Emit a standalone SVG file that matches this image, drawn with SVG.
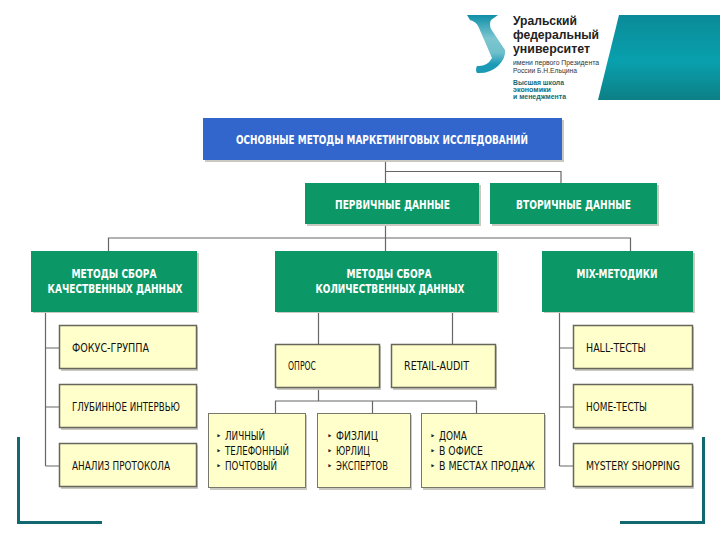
<svg xmlns="http://www.w3.org/2000/svg" width="720" height="540" viewBox="0 0 720 540">
<defs>
<linearGradient id="tealGrad" x1="0" y1="0" x2="0" y2="1"><stop offset="0" stop-color="#0b8b99"/><stop offset="0.55" stop-color="#08a0ad"/><stop offset="1" stop-color="#0d7f85"/></linearGradient>
<linearGradient id="uGrad" x1="0" y1="0" x2="0" y2="1"><stop offset="0" stop-color="#0f8fa8"/><stop offset="0.4" stop-color="#7cc6cf"/><stop offset="0.65" stop-color="#6fbfcc"/><stop offset="0.85" stop-color="#1a9ab5"/></linearGradient>
</defs>
<style>
text{font-family:"DejaVu Sans","Liberation Sans",sans-serif}
.s{fill:#c9c9c2}
.blue{fill:#3366cc}
.green{fill:#0b9866}
.yel{fill:#ffffcc;stroke:#66665a;stroke-width:1.5}
.yel2{fill:#ffffcc;stroke:#77776a;stroke-width:1}
.w{fill:#fff;font-size:11.500px;font-weight:bold;text-anchor:middle}
.k{fill:#111;font-size:11.500px}
.b{fill:#222;font-size:9px}
.c{fill:none;stroke:#666;stroke-width:1.2}
.corner{fill:none;stroke:#12686f;stroke-width:3}
.logo{fill:#222;font-family:"Liberation Sans",sans-serif;font-weight:bold;font-size:12px}
.sm{fill:#333;font-family:"Liberation Sans",sans-serif;font-size:7px}
.hs{fill:#176a72;font-family:"Liberation Sans",sans-serif;font-weight:bold;font-size:6.500px}
</style>
<g id="logo">
<path d="M467 15H498L491 20Q489 24 491 29L505 50Q506 58 498 66Q489 74 477 73Q475 70 477 66Q487 67 492 58L479 28Q477 22 470 20Z" fill="url(#uGrad)"/>
<text class="logo" x="513" y="25" textLength="64" lengthAdjust="spacingAndGlyphs">Уральский</text>
<text class="logo" x="513" y="39" textLength="86" lengthAdjust="spacingAndGlyphs">федеральный</text>
<text class="logo" x="513" y="52.500" textLength="77" lengthAdjust="spacingAndGlyphs">университет</text>
<text class="sm" x="513" y="65" textLength="86" lengthAdjust="spacingAndGlyphs">имени первого Президента</text>
<text class="sm" x="513" y="73" textLength="64" lengthAdjust="spacingAndGlyphs">России Б.Н.Ельцина</text>
<text class="hs" x="513" y="85" textLength="51" lengthAdjust="spacingAndGlyphs">Высшая школа</text>
<text class="hs" x="513" y="92" textLength="38" lengthAdjust="spacingAndGlyphs">экономики</text>
<text class="hs" x="513" y="99" textLength="53" lengthAdjust="spacingAndGlyphs">и менеджмента</text>
<path d="M619 15H720V100H598Z" fill="url(#tealGrad)"/>
</g>
<g id="corners">
<path class="corner" d="M18.500 437V522.500H102"/>
<path class="corner" d="M703.500 437V522.500H620"/>
</g>
<g id="connectors">
<path class="c" d="M385.500 160V183M385.500 171.500H561V183"/>
<path class="c" d="M385.500 224V238M108.500 251V238H630.500V251M385.500 238V251"/>
<path class="c" d="M45.500 312V466M45.500 348H59M45.500 407H59M45.500 466H59"/>
<path class="c" d="M559.500 312V466M559.500 348H573M559.500 407H573M559.500 466H573"/>
<path class="c" d="M318.500 312V344M452.500 312V344"/>
<path class="c" d="M318.500 388V401M275.500 413V401H476.500V413M372.500 401V413"/>
</g>
<g id="root"><rect class="s" x="205" y="120" width="359" height="42"/><rect class="blue" x="203" y="118" width="359" height="42"/><text class="w" x="382" y="144" textLength="292" lengthAdjust="spacingAndGlyphs">ОСНОВНЫЕ МЕТОДЫ МАРКЕТИНГОВЫХ ИССЛЕДОВАНИЙ</text></g>
<g id="primary"><rect class="s" x="307" y="185" width="174" height="41"/><rect class="green" x="305" y="183" width="174" height="41"/><text class="w" x="392.500" y="209" textLength="115" lengthAdjust="spacingAndGlyphs">ПЕРВИЧНЫЕ ДАННЫЕ</text></g>
<g id="secondary"><rect class="s" x="492" y="185" width="167" height="41"/><rect class="green" x="490" y="183" width="167" height="41"/><text class="w" x="573.500" y="209" textLength="115" lengthAdjust="spacingAndGlyphs">ВТОРИЧНЫЕ ДАННЫЕ</text></g>
<g id="qual"><rect class="s" x="33" y="253" width="166" height="60"/><rect class="green" x="31" y="251" width="166" height="61"/><text class="w" x="114" y="278" textLength="85" lengthAdjust="spacingAndGlyphs">МЕТОДЫ СБОРА</text><text class="w" x="115" y="293" textLength="135" lengthAdjust="spacingAndGlyphs">КАЧЕСТВЕННЫХ ДАННЫХ</text></g>
<g id="quant"><rect class="s" x="277" y="253" width="222" height="60"/><rect class="green" x="275" y="251" width="222" height="61"/><text class="w" x="389" y="278" textLength="85" lengthAdjust="spacingAndGlyphs">МЕТОДЫ СБОРА</text><text class="w" x="390" y="293" textLength="149" lengthAdjust="spacingAndGlyphs">КОЛИЧЕСТВЕННЫХ ДАННЫХ</text></g>
<g id="mix"><rect class="s" x="544" y="253" width="151" height="60"/><rect class="green" x="542" y="251" width="151" height="61"/><text class="w" x="617" y="278" textLength="81" lengthAdjust="spacingAndGlyphs">MIX-МЕТОДИКИ</text></g>
<g id="focus"><rect class="s" x="61" y="327" width="137" height="44"/><rect class="yel" x="59.500" y="325.500" width="137" height="43"/><text class="k" x="72" y="352" textLength="77" lengthAdjust="spacingAndGlyphs">ФОКУС-ГРУППА</text></g>
<g id="depth"><rect class="s" x="61" y="386" width="137" height="44"/><rect class="yel" x="59.500" y="384.500" width="137" height="43"/><text class="k" x="72" y="411" textLength="108" lengthAdjust="spacingAndGlyphs">ГЛУБИННОЕ ИНТЕРВЬЮ</text></g>
<g id="protocol"><rect class="s" x="61" y="445" width="137" height="44"/><rect class="yel" x="59.500" y="443.500" width="137" height="43"/><text class="k" x="72" y="470" textLength="98" lengthAdjust="spacingAndGlyphs">АНАЛИЗ ПРОТОКОЛА</text></g>
<g id="opros"><rect class="s" x="277" y="346" width="104" height="44"/><rect class="yel" x="275.500" y="344.500" width="104" height="43"/><text class="k" x="288" y="370" textLength="28" lengthAdjust="spacingAndGlyphs">ОПРОС</text></g>
<g id="retail"><rect class="s" x="393" y="346" width="104" height="44"/><rect class="yel" x="391.500" y="344.500" width="104" height="43"/><text class="k" x="404" y="370" textLength="65" lengthAdjust="spacingAndGlyphs">RETAIL-AUDIT</text></g>
<g id="list1"><rect class="s" x="210" y="415" width="97" height="75"/><rect class="yel2" x="208.500" y="413.500" width="97" height="74"/><text class="b" x="216" y="439">‣</text><text class="b" x="216" y="454">‣</text><text class="b" x="216" y="469">‣</text><text class="k" x="225" y="440" textLength="40" lengthAdjust="spacingAndGlyphs">ЛИЧНЫЙ</text><text class="k" x="225" y="455" textLength="64" lengthAdjust="spacingAndGlyphs">ТЕЛЕФОННЫЙ</text><text class="k" x="225" y="470" textLength="52" lengthAdjust="spacingAndGlyphs">ПОЧТОВЫЙ</text></g>
<g id="list2"><rect class="s" x="319" y="415" width="93" height="75"/><rect class="yel2" x="317.500" y="413.500" width="93" height="74"/><text class="b" x="327" y="439">‣</text><text class="b" x="327" y="454">‣</text><text class="b" x="327" y="469">‣</text><text class="k" x="336" y="440" textLength="42" lengthAdjust="spacingAndGlyphs">ФИЗЛИЦ</text><text class="k" x="336" y="455" textLength="34" lengthAdjust="spacingAndGlyphs">ЮРЛИЦ</text><text class="k" x="336" y="470" textLength="52" lengthAdjust="spacingAndGlyphs">ЭКСПЕРТОВ</text></g>
<g id="list3"><rect class="s" x="423" y="415" width="123" height="75"/><rect class="yel2" x="421.500" y="413.500" width="123" height="74"/><text class="b" x="430" y="439">‣</text><text class="b" x="430" y="454">‣</text><text class="b" x="430" y="469">‣</text><text class="k" x="439" y="440" textLength="28" lengthAdjust="spacingAndGlyphs">ДОМА</text><text class="k" x="439" y="455" textLength="44" lengthAdjust="spacingAndGlyphs">В ОФИСЕ</text><text class="k" x="439" y="470" textLength="96" lengthAdjust="spacingAndGlyphs">В МЕСТАХ ПРОДАЖ</text></g>
<g id="hall"><rect class="s" x="575" y="327" width="119" height="44"/><rect class="yel" x="573.500" y="325.500" width="119" height="43"/><text class="k" x="586" y="352" textLength="60" lengthAdjust="spacingAndGlyphs">HALL-ТЕСТЫ</text></g>
<g id="home"><rect class="s" x="575" y="386" width="119" height="44"/><rect class="yel" x="573.500" y="384.500" width="119" height="43"/><text class="k" x="586" y="411" textLength="61" lengthAdjust="spacingAndGlyphs">HOME-ТЕСТЫ</text></g>
<g id="mystery"><rect class="s" x="575" y="445" width="119" height="44"/><rect class="yel" x="573.500" y="443.500" width="119" height="43"/><text class="k" x="586" y="470" textLength="94" lengthAdjust="spacingAndGlyphs">MYSTERY SHOPPING</text></g>
</svg>
